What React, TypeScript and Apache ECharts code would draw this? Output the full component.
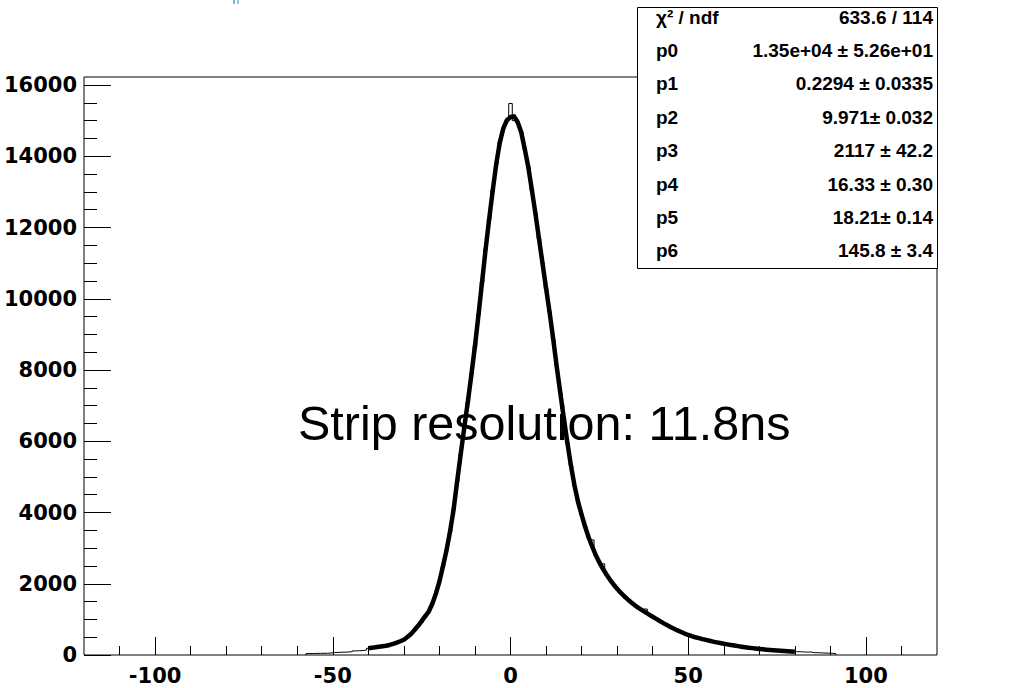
import React, { useEffect, useRef } from "react";
import * as echarts from "echarts";

// Histogram: bins of width 1 centred on integers, first bin centred at -57
const HIST_FIRST_CENTER = -57;
const BIN_WIDTH = 1;
const histCounts = [
  40, 42, 45, 46, 48, 50, 55, 68, 72, 76, 80, 85, 95, 115, 120, 125, 140,
  188, 205, 213, 232, 244, 262, 280, 312, 348, 383, 432, 508, 588, 690, 800, 918, 1050, 1215, 1445, 1705,
  2070, 2480, 2950, 3460, 4100, 4870, 5650, 6400, 7100, 7880, 8660, 9560, 10460, 11400, 12230, 13050,
  13780, 14400, 14780, 15020,
  15480, 15000, 14950, 14690, 14200, 13710, 13050, 12410, 11690, 11010,
  10290, 9630, 8870, 8110, 7360, 6660, 5950, 5330, 4750, 4310,
  3930, 3610, 3290, 3230, 2790, 2610, 2560, 2250, 2120, 1970,
  1870, 1740, 1660, 1550, 1480, 1390, 1330, 1250, 1290, 1130,
  1080, 1010, 960, 890, 845, 785, 740, 685, 650, 598,
  565, 525, 500, 470, 450, 420, 402, 372, 358, 332,
  318, 295, 283, 262, 251, 231, 222, 203, 195, 178,
  172, 156, 151, 138, 134, 121, 119, 108, 106, 96,
  94, 92, 88, 80, 85, 66, 64, 60, 55, 52,
  48, 40,
];

// Fit curve, read at integer x from -40 to 80
const FIT_FIRST_X = -40;
const fitValues = [
  190, 203, 215, 230, 246, 258, 282, 310, 345, 385, 430, 505, 590, 700, 820, 950, 1090, 1220, 1440, 1720,
  2060, 2490, 2940, 3470, 4090, 4880, 5640, 6390, 7110, 7870, 8670, 9550, 10470, 11390, 12240, 13040,
  13790, 14390, 14790, 15010,
  15100, 15120, 14960, 14680, 14210, 13700, 13060, 12400, 11700, 11000,
  10300, 9620, 8880, 8100, 7370, 6650, 5960, 5320, 4760, 4300,
  3940, 3600, 3300, 3040, 2800, 2600, 2420, 2260, 2110, 1980,
  1860, 1750, 1650, 1560, 1475, 1395, 1325, 1260, 1195, 1135,
  1075, 1015, 955, 895, 840, 788, 738, 690, 645, 602,
  562, 528, 498, 472, 447, 423, 399, 376, 355, 335,
  316, 298, 281, 265, 249, 234, 220, 206, 193, 181,
  170, 159, 149, 140, 132, 124, 117, 110, 104, 98,
  93,
];

const X_MIN = -120;
const X_MAX = 120;
const Y_MIN = 0;
const Y_MAX = 16225;
const xMajorTicks = [-100, -50, 0, 50, 100];
const xMinorTicks = [-110, -90, -80, -70, -60, -40, -30, -20, -10, 10, 20, 30, 40, 60, 70, 80, 90, 110];
const yMajorTicks = [0, 2000, 4000, 6000, 8000, 10000, 12000, 14000, 16000];
const yMinorTicks = [
  500, 1000, 1500, 2500, 3000, 3500, 4500, 5000, 5500, 6500, 7000, 7500, 8500, 9000, 9500,
  10500, 11000, 11500, 12500, 13000, 13500, 14500, 15000, 15500,
];

const statNames = ["\u03C7\u00B2 / ndf", "p0", "p1", "p2", "p3", "p4", "p5", "p6"];
const statValues = [
  "633.6 / 114",
  "1.35e+04 \u00B1 5.26e+01",
  "0.2294 \u00B1 0.0335",
  "9.971\u00B1 0.032",
  "2117 \u00B1 42.2",
  "16.33 \u00B1 0.30",
  "18.21\u00B1 0.14",
  "145.8 \u00B1 3.4",
];
const annotation = "Strip resolution: 11.8ns";

export default function App() {
  const ref = useRef<HTMLDivElement>(null);
  useEffect(() => {
    if (!ref.current) return;
    const chart = echarts.init(ref.current, null, { renderer: "svg" });

    const n = histCounts.length;
    const firstEdge = HIST_FIRST_CENTER - BIN_WIDTH / 2;
    const histData: number[][] = [[firstEdge, 0]];
    histCounts.forEach((c, i) => histData.push([firstEdge + i * BIN_WIDTH, c]));
    histData.push([firstEdge + n * BIN_WIDTH, histCounts[n - 1]]);
    histData.push([firstEdge + n * BIN_WIDTH, 0]);

    const fitData = fitValues.map((v, i) => [FIT_FIRST_X + i, v]);

    const labelFont = {
      fontFamily: "DejaVu Sans",
      fontWeight: "bold" as const,
      fontSize: 21,
      color: "#000",
      formatter: (v: number) => String(v),
    };

    const rowTop = 17;
    const rowStep = 33.4;
    const statTexts: any[] = [];
    statNames.forEach((name, i) => {
      statTexts.push({
        type: "text",
        z: 101,
        style: {
          x: 656,
          y: rowTop + i * rowStep,
          text: name,
          fill: "#000",
          font: "bold 19px 'Liberation Sans'",
          textAlign: "left",
          textVerticalAlign: "middle",
        },
      });
      statTexts.push({
        type: "text",
        z: 101,
        style: {
          x: 933,
          y: rowTop + i * rowStep,
          text: statValues[i],
          fill: "#000",
          font: "bold 19px 'Liberation Sans'",
          textAlign: "right",
          textVerticalAlign: "middle",
        },
      });
    });

    const noLine = { show: false, onZero: false };

    chart.setOption({
      animation: false,
      backgroundColor: "#fff",
      grid: {
        left: 84,
        right: 77,
        top: 77,
        bottom: 33,
        show: true,
        borderColor: "#000",
        borderWidth: 1,
        backgroundColor: "transparent",
        containLabel: false,
        outerBoundsMode: "none",
      },
      xAxis: [
        {
          type: "value",
          min: X_MIN,
          max: X_MAX,
          position: "bottom",
          axisLine: noLine,
          splitLine: { show: false },
          axisTick: {
            show: true,
            inside: true,
            length: 18,
            customValues: xMajorTicks,
            lineStyle: { color: "#000", width: 1 },
          },
          axisLabel: { ...labelFont, margin: 10, customValues: xMajorTicks },
        },
        {
          type: "value",
          min: X_MIN,
          max: X_MAX,
          position: "bottom",
          offset: 0,
          axisLine: noLine,
          splitLine: { show: false },
          axisTick: {
            show: true,
            inside: true,
            length: 9,
            customValues: xMinorTicks,
            lineStyle: { color: "#000", width: 1 },
          },
          axisLabel: { show: false },
        },
      ],
      yAxis: [
        {
          type: "value",
          min: Y_MIN,
          max: Y_MAX,
          position: "left",
          axisLine: noLine,
          splitLine: { show: false },
          axisTick: {
            show: true,
            inside: true,
            length: 27,
            customValues: yMajorTicks,
            lineStyle: { color: "#000", width: 1 },
          },
          axisLabel: { ...labelFont, margin: 7, customValues: yMajorTicks },
        },
        {
          type: "value",
          min: Y_MIN,
          max: Y_MAX,
          position: "left",
          offset: 0,
          axisLine: noLine,
          splitLine: { show: false },
          axisTick: {
            show: true,
            inside: true,
            length: 13,
            customValues: yMinorTicks,
            lineStyle: { color: "#000", width: 1 },
          },
          axisLabel: { show: false },
        },
      ],
      series: [
        {
          type: "line",
          name: "histogram",
          xAxisIndex: 0,
          yAxisIndex: 0,
          step: "end",
          data: histData,
          symbol: "none",
          lineStyle: { color: "#000", width: 1 },
          z: 2,
        },
        {
          type: "line",
          name: "fit",
          xAxisIndex: 0,
          yAxisIndex: 0,
          data: fitData,
          symbol: "none",
          smooth: false,
          lineStyle: { color: "#000", width: 4.5, join: "round" },
          z: 3,
        },
      ],
      graphic: [
        {
          type: "rect",
          z: 100,
          shape: { x: 637.5, y: 7.5, width: 300, height: 261 },
          style: { fill: "#fff", stroke: "#000", lineWidth: 1 },
        },
        ...statTexts,
        {
          type: "text",
          z: 50,
          style: {
            x: 298,
            y: 423,
            text: annotation,
            fill: "#000",
            font: "48.5px 'Liberation Sans'",
            textAlign: "left",
            textVerticalAlign: "middle",
          },
        },
        {
          type: "rect",
          z: 50,
          shape: { x: 233, y: 0, width: 2, height: 4 },
          style: { fill: "#7fb4c9" },
        },
        {
          type: "rect",
          z: 50,
          shape: { x: 237, y: 0, width: 2, height: 4 },
          style: { fill: "#9ccad9" },
        },
      ],
    });
    return () => chart.dispose();
  }, []);
  return (
    <div
      ref={ref}
      style={{ position: "absolute", left: 0, top: 0, width: 1014, height: 688, background: "#fff" }}
    />
  );
}
